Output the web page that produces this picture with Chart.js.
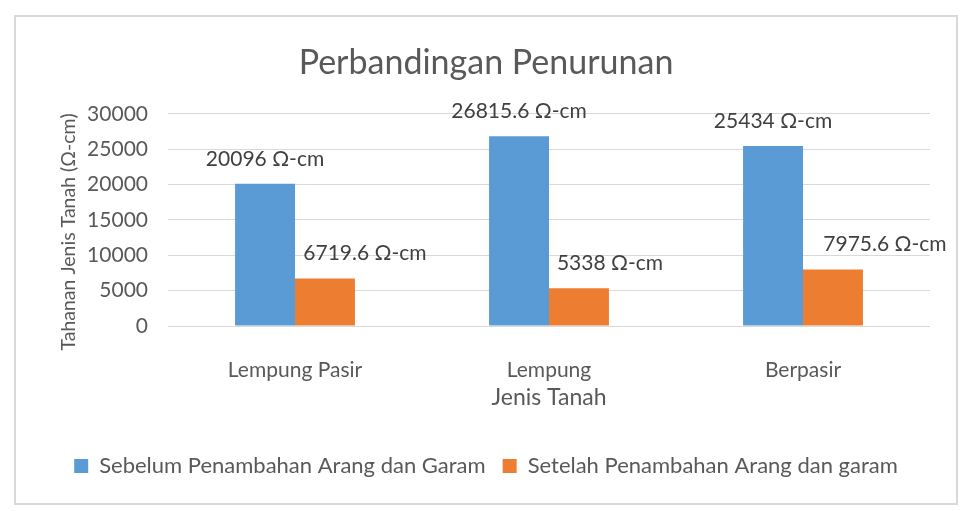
<!DOCTYPE html>
<html>
<head>
<meta charset="utf-8">
<script src="https://cdn.jsdelivr.net/npm/chart.js@4/dist/chart.umd.min.js"></script>
<style>
  html, body { margin: 0; padding: 0; background: #ffffff; }
  #wrap { width: 966px; height: 511px; }
</style>
</head>
<body>
<div id="wrap"><canvas id="c" width="966" height="511"></canvas></div>
<script>
// ---- data ----
const categories = ["Lempung Pasir", "Lempung", "Berpasir"];
const seriesNames = ["Sebelum Penambahan Arang dan Garam", "Setelah Penambahan Arang dan garam"];
const sebelumValues = [20096, 26815.6, 25434];
const setelahValues = [6719.6, 5338, 7975.6];
const yTicks = [0, 5000, 10000, 15000, 20000, 25000, 30000];
const unitSuffix = " \u03A9-cm";
const chartTitle = "Perbandingan Penurunan";
const xAxisTitle = "Jenis Tanah";
const yAxisTitle = "Tahanan Jenis Tanah (\u03A9-cm)";

const FONT = "Lato, 'Open Sans', 'Noto Sans', sans-serif";
const TXT = "#595959";

const framePlugin = {
  id: "frame",
  beforeDraw(chart) {
    const ctx = chart.ctx;
    ctx.save();
    ctx.fillStyle = "#ffffff";
    ctx.fillRect(0, 0, chart.width, chart.height);
    ctx.strokeStyle = "#D9D9D9";
    ctx.lineWidth = 2;
    ctx.strokeRect(15, 16, 942, 488);
    ctx.restore();
  }
};

// y-axis title, placed a little below the plot centre as in the original
const yTitlePlugin = {
  id: "yTitle",
  afterDraw(chart, args, opts) {
    const ctx = chart.ctx;
    const area = chart.chartArea;
    ctx.save();
    ctx.translate(opts.x, (area.top + area.bottom) / 2 + opts.dy);
    ctx.rotate(-Math.PI / 2);
    ctx.font = opts.size + "px " + FONT;
    ctx.fillStyle = TXT;
    ctx.textAlign = "center";
    ctx.textBaseline = "middle";
    ctx.fillText(yAxisTitle, 0, 0);
    ctx.restore();
  }
};

const valueLabelPlugin = {
  id: "valueLabels",
  afterDatasetsDraw(chart, args, opts) {
    const ctx = chart.ctx;
    ctx.save();
    ctx.font = opts.size + "px " + FONT;
    ctx.fillStyle = opts.color;
    ctx.textAlign = "center";
    ctx.textBaseline = "middle";
    chart.data.datasets.forEach((ds, di) => {
      const meta = chart.getDatasetMeta(di);
      const shifts = opts.shiftX[di];
      meta.data.forEach((bar, i) => {
        const v = ds.data[i];
        ctx.fillText(String(v) + unitSuffix, bar.x + shifts[i], bar.y - opts.lift);
      });
    });
    ctx.restore();
  }
};

new Chart(document.getElementById("c"), {
  type: "bar",
  data: {
    labels: categories,
    datasets: [
      { label: seriesNames[0], data: sebelumValues, backgroundColor: "#5B9BD5", borderWidth: 0 },
      { label: seriesNames[1], data: setelahValues, backgroundColor: "#ED7D31", borderWidth: 0 }
    ]
  },
  options: {
    responsive: false,
    animation: false,
    devicePixelRatio: 1,
    categoryPercentage: 0.472,
    barPercentage: 1.0,
    layout: { padding: { left: 14, right: 8, top: 15, bottom: 24 } },
    plugins: {
      title: {
        display: true,
        text: chartTitle,
        color: TXT,
        font: { family: FONT, size: 34, weight: "normal" },
        padding: { top: 28, bottom: 30 }
      },
      legend: {
        display: true,
        position: "bottom",
        labels: {
          color: TXT,
          font: { family: FONT, size: 22 },
          boxWidth: 14,
          boxHeight: 14,
          padding: 17
        }
      },
      tooltip: { enabled: false },
      valueLabels: {
        size: 21,
        color: "#404040",
        lift: 25,
        shiftX: [[0, 0, 0], [40, 31, 52]]
      },
      yTitle: { x: 69, dy: 12, size: 19.5 }
    },
    scales: {
      x: {
        grid: { display: false },
        border: { display: false },
        ticks: { color: TXT, font: { family: FONT, size: 21 }, padding: 24 },
        title: {
          display: true,
          text: xAxisTitle,
          color: TXT,
          font: { family: FONT, size: 23 },
          padding: { top: 0, bottom: 27 }
        },
        afterFit(scale) { scale.height = 112; }
      },
      y: {
        min: 0,
        max: 30000,
        afterBuildTicks(scale) { scale.ticks = yTicks.map(v => ({ value: v })); },
        grid: { color: "#D9D9D9", lineWidth: 1, drawTicks: false },
        border: { display: false },
        ticks: {
          color: TXT,
          font: { family: FONT, size: 21 },
          padding: 20,
          callback: (v) => String(v)
        },
        title: { display: false },
        afterFit(scale) { scale.width = 154; }
      },
      yRight: {
        position: "right",
        display: true,
        grid: { display: false },
        border: { display: false },
        ticks: { display: false },
        afterFit(scale) { scale.width = 28; }
      }
    }
  },
  plugins: [framePlugin, valueLabelPlugin, yTitlePlugin]
});
</script>
</body>
</html>
